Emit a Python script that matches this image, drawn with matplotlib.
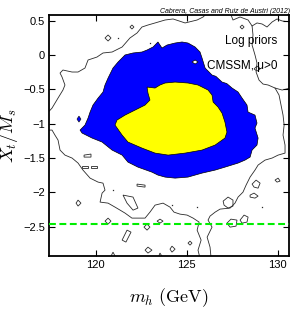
import matplotlib
matplotlib.use("Agg")
import matplotlib.pyplot as plt

plt.rcParams['font.family'] = ['Liberation Sans', 'DejaVu Sans']
plt.rcParams['mathtext.fontset'] = 'cm'

# ---- data (m_h in GeV, X_t/M_s) ----
region95_x = [121.23, 121.61, 122.05, 122.54, 122.82, 123.15, 123.42, 123.64, 123.92, 124.36,
              124.74, 125.07, 125.46, 125.73, 125.84, 126.01, 126.39, 126.60, 126.94, 127.20,
              127.49, 127.82, 128.04, 128.31, 128.37, 128.75, 128.86, 128.75, 128.92, 128.86,
              128.59, 128.48, 128.20, 127.82, 127.10, 126.56, 125.84, 125.07, 124.36, 123.81,
              123.42, 123.09, 122.32, 121.77, 121.45, 120.90, 120.35, 119.80, 119.25, 119.14,
              119.41, 119.58, 119.69, 119.85, 120.13, 120.40, 120.51, 120.68, 120.95]
region95_y = [-0.101, 0.001, 0.030, 0.044, 0.073, 0.117, 0.190, 0.102, 0.146, 0.175,
              0.190, 0.175, 0.117, 0.044, -0.043, -0.189, -0.291, -0.310, -0.393, -0.415,
              -0.480, -0.538, -0.626, -0.728, -0.830, -0.874, -0.990, -1.063, -1.208, -1.310,
              -1.383, -1.485, -1.529, -1.572, -1.631, -1.674, -1.718, -1.776, -1.791, -1.776,
              -1.747, -1.704, -1.631, -1.558, -1.456, -1.383, -1.266, -1.208, -1.135, -1.092,
              -1.019, -0.917, -0.830, -0.728, -0.626, -0.539, -0.436, -0.334, -0.189]

region68_x = [122.82, 123.26, 123.53, 123.81, 124.36, 125.07, 125.62, 126.17, 126.39, 126.45,
              126.72, 126.94, 127.10, 127.21, 127.10, 126.56, 125.84, 124.91, 123.98, 123.26,
              122.54, 121.77, 121.45, 121.06, 121.17, 121.61, 122.16, 122.71, 122.98, 122.87]
region68_y = [-0.466, -0.480, -0.436, -0.407, -0.393, -0.407, -0.436, -0.509, -0.582, -0.684,
              -0.757, -0.845, -0.976, -1.121, -1.208, -1.310, -1.383, -1.427, -1.456, -1.427,
              -1.354, -1.266, -1.165, -1.019, -0.946, -0.874, -0.801, -0.728, -0.655, -0.553]

blue_spot_x = [118.97, 119.08, 119.19, 119.08]
blue_spot_y = [-0.932, -0.888, -0.932, -0.976]
blue_hole_x = [125.29, 125.46, 125.62, 125.46]
blue_hole_y = [-0.101, -0.072, -0.101, -0.131]

outer_upper_x = [117.45, 117.60, 117.93, 118.20, 118.31, 118.15, 118.04, 118.20, 118.70, 119.03,
                 119.41, 119.58, 120.07, 120.40, 120.90, 121.45, 121.88, 122.27, 122.54, 122.87,
                 123.26, 123.81, 124.25, 124.91, 125.57, 125.90, 126.15]
outer_upper_y = [-0.815, -0.772, -0.626, -0.509, -0.436, -0.320, -0.262, -0.218, -0.247, -0.247,
                 -0.189, -0.072, -0.029, 0.030, 0.044, 0.117, 0.248, 0.321, 0.408, 0.437,
                 0.467, 0.510, 0.525, 0.467, 0.510, 0.554, 0.620]

outer_right_x = [128.59, 128.64, 128.59, 128.75, 128.86, 128.81, 128.97, 129.19, 129.47, 129.85,
                 130.07, 130.18, 130.29, 130.35, 130.29, 130.40, 130.40, 130.02, 129.69, 129.30,
                 128.92, 128.75, 128.48, 128.26, 128.09, 127.82, 127.65, 127.38, 126.83, 126.56,
                 126.28, 126.17, 126.39, 126.12, 126.28, 126.34]
outer_right_y = [0.423, 0.292, 0.146, 0.001, -0.116, -0.247, -0.364, -0.422, -0.436, -0.480,
                 -0.582, -0.728, -0.874, -1.019, -1.165, -1.310, -1.427, -1.456, -1.499, -1.529,
                 -1.601, -1.674, -1.776, -1.893, -1.995, -2.067, -2.155, -2.227, -2.242, -2.286,
                 -2.344, -2.402, -2.504, -2.650, -2.795, -2.960]

outer_lower_x = [125.73, 125.62, 125.79, 125.57, 125.68, 125.35, 125.02, 124.63, 124.30, 124.08,
                 123.70, 123.26, 122.98, 122.71, 122.32, 121.99, 121.61, 121.34, 121.06, 120.68,
                 120.24, 120.35, 120.51, 120.40, 120.13, 119.69, 119.30, 119.03, 118.70, 118.31,
                 118.04, 117.93, 117.76, 117.60, 117.38]
outer_lower_y = [-2.960, -2.839, -2.693, -2.548, -2.431, -2.373, -2.329, -2.315, -2.286, -2.213,
                 -2.155, -2.184, -2.286, -2.373, -2.373, -2.373, -2.300, -2.257, -2.213, -2.155,
                 -2.140, -2.009, -1.966, -1.864, -1.849, -1.791, -1.674, -1.572, -1.499, -1.456,
                 -1.383, -1.237, -1.165, -1.092, -1.092]

top_right_x = [127.38, 127.54, 127.93, 128.37, 128.59, 128.86, 129.14, 129.41, 129.69, 129.96,
               130.24, 130.70]
top_right_y = [0.620, 0.510, 0.554, 0.510, 0.423, 0.467, 0.452, 0.408, 0.481, 0.525,
               0.496, 0.481]

right_stub_x = [129.85, 130.24, 130.70]
right_stub_y = [-0.480, -0.509, -0.480]

islands = {
    'a': ([127.00, 127.27, 127.54, 127.54, 127.27, 127.05], [-2.126, -2.067, -2.111, -2.198, -2.227, -2.184]),
    'b': ([128.48, 128.70, 128.92, 128.75, 128.48], [-2.038, -2.009, -2.053, -2.082, -2.067]),
    'c': ([127.21, 127.43, 127.76, 127.71, 127.38], [-2.446, -2.388, -2.402, -2.490, -2.504]),
    'd': ([127.93, 128.15, 128.37, 128.31, 128.04], [-2.402, -2.329, -2.358, -2.431, -2.446]),
    'e': ([129.85, 130.02, 130.13, 129.96], [-1.820, -1.791, -1.834, -1.849]),
    'f': ([128.59, 128.81, 129.03, 128.92, 128.70], [-1.878, -1.820, -1.864, -1.937, -1.922]),
    'g': ([122.71, 122.87, 123.09, 122.87], [-2.839, -2.795, -2.839, -2.882]),
    'h': ([124.08, 124.19, 124.36, 124.19], [-2.825, -2.781, -2.825, -2.868]),
    'i': ([125.07, 125.18, 125.29, 125.18], [-2.737, -2.708, -2.737, -2.766]),
    'j': ([123.42, 123.53, 123.70], [-2.955, -2.882, -2.955]),
    'k': ([123.37, 123.53, 123.70, 123.53], [-2.417, -2.388, -2.417, -2.446]),
    'l': ([118.92, 119.03, 119.19, 119.03], [-2.155, -2.111, -2.155, -2.198]),
    'm': ([120.51, 120.68, 120.84, 120.68], [-2.417, -2.373, -2.417, -2.460]),
    'n': ([121.72, 121.94, 121.66, 121.45], [-2.548, -2.577, -2.722, -2.693]),
    'o': ([120.79, 120.95, 121.12], [-2.955, -2.868, -2.955]),
    'p': ([122.65, 122.82, 122.98, 122.82], [-2.504, -2.460, -2.504, -2.548]),
    'q': ([121.50, 122.05, 122.32, 122.05, 121.72], [-2.038, -2.067, -2.227, -2.257, -2.155]),
    'r': ([120.51, 120.68, 120.84, 120.68], [0.248, 0.292, 0.248, 0.204]),
    's': ([121.88, 121.99, 122.10, 121.99], [0.408, 0.437, 0.408, 0.379]),
    't': ([127.93, 128.04, 128.15, 128.04], [0.408, 0.437, 0.408, 0.379]),
    'u': ([128.70, 128.86, 129.03, 128.86], [-0.203, -0.160, -0.203, -0.233]),
    'v': ([119.36, 119.74, 119.74, 119.36], [-1.456, -1.441, -1.485, -1.485]),
    'w': ([119.25, 119.58, 119.58, 119.25], [-1.616, -1.616, -1.645, -1.645]),
    'x': ([119.74, 120.07, 120.07, 119.74], [-1.616, -1.616, -1.645, -1.645]),
    'y': ([122.27, 122.71, 122.71, 122.27], [-1.878, -1.893, -1.922, -1.907]),
}

specks_x = [120.07, 122.98, 121.23, 120.95, 124.19, 125.57, 129.14, 123.70]
specks_y = [-0.700, 0.175, 0.248, -1.966, -2.184, -2.213, -2.213, 0.030]

lep_bound = -2.46
x_ticks = [120, 125, 130]
y_ticks = [0.5, 0, -0.5, -1, -1.5, -2, -2.5]
y_tick_labels = ['0.5', '0', '\u22120.5', '\u22121', '\u22121.5', '\u22122', '\u22122.5']

fig = plt.figure(figsize=(2.91, 3.09), dpi=100)
ax = fig.add_axes([0.1694, 0.1725, 0.8226, 0.779])

line_kw = dict(color='#2a2a2a', lw=0.6)
ax.fill(region95_x, region95_y, facecolor='#0000ff', edgecolor='black', lw=0.5, zorder=2)
ax.fill(blue_hole_x, blue_hole_y, facecolor='white', edgecolor='black', lw=0.5, zorder=2.5)
ax.fill(blue_spot_x, blue_spot_y, facecolor='#0000ff', edgecolor='black', lw=0.4, zorder=2)
ax.fill(region68_x, region68_y, facecolor='#ffff00', edgecolor='black', lw=0.5, zorder=3)

for xs, ys in [(outer_upper_x, outer_upper_y), (outer_right_x, outer_right_y),
               (outer_lower_x, outer_lower_y), (top_right_x, top_right_y),
               (right_stub_x, right_stub_y)]:
    ax.plot(xs, ys, **line_kw, zorder=1)
for xs, ys in islands.values():
    ax.fill(xs, ys, facecolor='none', edgecolor='#2a2a2a', lw=0.6, zorder=1)
ax.plot(specks_x, specks_y, 's', color='#2a2a2a', ms=0.9, mew=0, zorder=1)

ax.axhline(lep_bound, color='#00ee00', lw=1.5, dashes=(3.3, 1.7), zorder=4)

ax.text(129.96, 0.161, 'Log priors', ha='right', va='baseline', fontsize=8.5, zorder=5)
ax.text(129.96, -0.203, 'CMSSM, \u03bc>0', ha='right', va='baseline', fontsize=8.5, zorder=5)
fig.text(0.9966, 0.958, 'Cabrera, Casas and Ruiz de Austri (2012)', ha='right',
         va='baseline', fontsize=5, style='italic')

ax.set_xlim(117.45, 130.6)
ax.set_ylim(-2.92, 0.583)
ax.set_xticks(x_ticks)
ax.set_yticks(y_ticks)
ax.set_yticklabels(y_tick_labels)
ax.tick_params(direction='in', length=4, width=0.8, top=True, right=True,
               labelsize=8, pad=3)
for s in ax.spines.values():
    s.set_linewidth(1.3)

ax.set_xlabel(r'$m_h\ (\mathrm{GeV})$', fontsize=13, labelpad=12)
ax.set_ylabel(r'$X_t/M_s$', fontsize=13, labelpad=2)

fig.savefig('out.png', dpi=100)
